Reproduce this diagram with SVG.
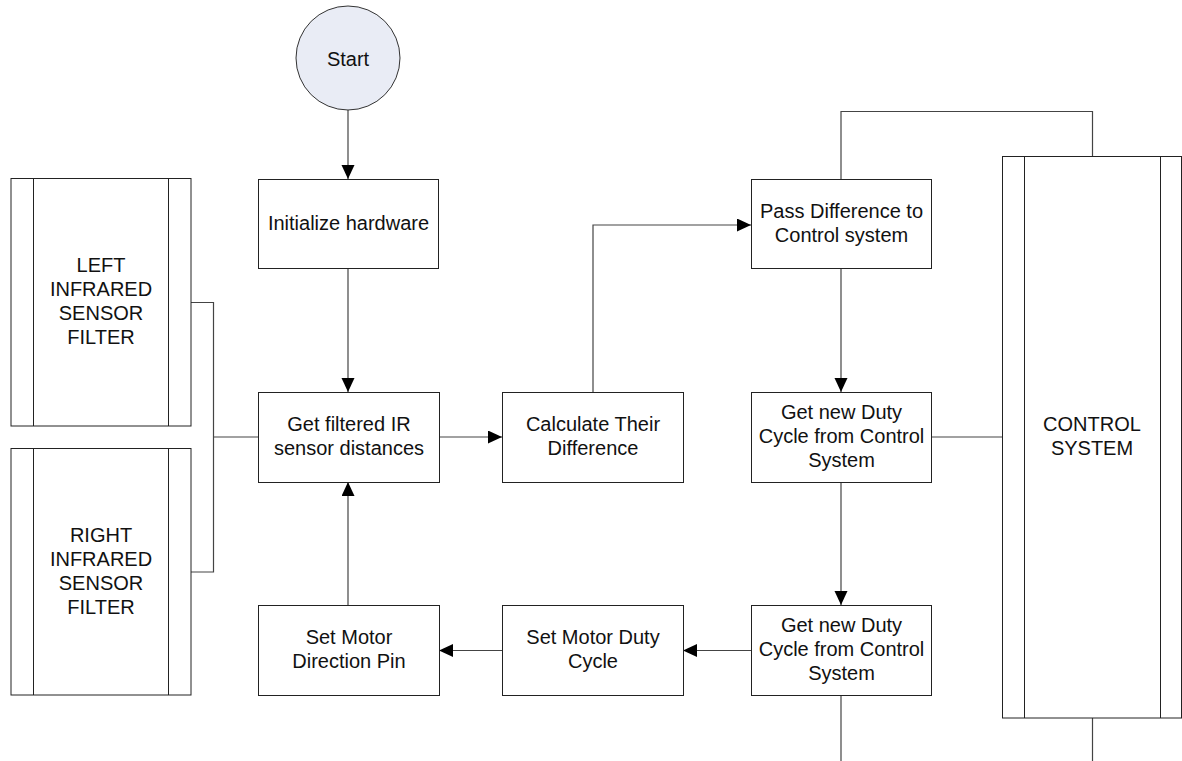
<svg xmlns="http://www.w3.org/2000/svg" width="1182" height="761" viewBox="0 0 1182 761">
<defs>
<marker id="arr" markerUnits="userSpaceOnUse" markerWidth="16" markerHeight="14" refX="14" refY="6.5" orient="auto">
<path d="M0,0 L14,6.5 L0,13 Z" fill="#000"/>
</marker>
<style>
.box{fill:#fff;stroke:#222;stroke-width:1}
.sub{fill:none;stroke:#222;stroke-width:1}
.conn{fill:none;stroke:#444;stroke-width:1.2}
text{font-family:"Liberation Sans",Arial,sans-serif;font-size:20px;fill:#111;text-anchor:middle}
</style>
</defs>
<rect width="1182" height="761" fill="#fff"/>
<g id="connectors">
<path class="conn" d="M348 110 V179" marker-end="url(#arr)"/>
<path class="conn" d="M348 268 V392" marker-end="url(#arr)"/>
<path class="conn" d="M191 302.5 H213.5 V572 H191"/>
<path class="conn" d="M213.5 437 H258"/>
<path class="conn" d="M439 437 H502" marker-end="url(#arr)"/>
<path class="conn" d="M593 392 V225 H751" marker-end="url(#arr)"/>
<path class="conn" d="M841 268 V392" marker-end="url(#arr)"/>
<path class="conn" d="M841 179 V111.5 H1092.5 V156"/>
<path class="conn" d="M931 437 H1002"/>
<path class="conn" d="M841 482 V605" marker-end="url(#arr)"/>
<path class="conn" d="M751 650.5 H683" marker-end="url(#arr)"/>
<path class="conn" d="M502 650.5 H439" marker-end="url(#arr)"/>
<path class="conn" d="M348 605 V482" marker-end="url(#arr)"/>
<path class="conn" d="M841 695 V761"/>
<path class="conn" d="M1092.5 718 V761"/>
</g>
<g id="start">
<circle cx="348" cy="58" r="52" fill="#e9ecf5" stroke="#333" stroke-width="1"/>
<text x="348" y="66">Start</text>
</g>
<g id="init">
<rect class="box" x="258.5" y="179.5" width="180" height="89"/>
<text x="348.5" y="230">Initialize hardware</text>
</g>
<g id="getFiltered">
<rect class="box" x="258.5" y="392.5" width="181" height="90"/>
<text x="349" y="431">Get filtered IR</text>
<text x="349" y="455">sensor distances</text>
</g>
<g id="calcDiff">
<rect class="box" x="502.5" y="392.5" width="181" height="90"/>
<text x="593" y="431">Calculate Their</text>
<text x="593" y="455">Difference</text>
</g>
<g id="passDiff">
<rect class="box" x="751.5" y="179.5" width="180" height="89"/>
<text x="841.5" y="218">Pass Difference to</text>
<text x="841.5" y="242">Control system</text>
</g>
<g id="getDuty1">
<rect class="box" x="751.5" y="392.5" width="180" height="90"/>
<text x="841.5" y="419">Get new Duty</text>
<text x="841.5" y="443">Cycle from Control</text>
<text x="841.5" y="467">System</text>
</g>
<g id="getDuty2">
<rect class="box" x="751.5" y="605.5" width="180" height="90"/>
<text x="841.5" y="632">Get new Duty</text>
<text x="841.5" y="656">Cycle from Control</text>
<text x="841.5" y="680">System</text>
</g>
<g id="setDuty">
<rect class="box" x="502.5" y="605.5" width="181" height="90"/>
<text x="593" y="644">Set Motor Duty</text>
<text x="593" y="668">Cycle</text>
</g>
<g id="setDir">
<rect class="box" x="258.5" y="605.5" width="181" height="90"/>
<text x="349" y="644">Set Motor</text>
<text x="349" y="668">Direction Pin</text>
</g>
<g id="leftSensor">
<rect class="box" x="11" y="178.5" width="180" height="247.5"/>
<path class="sub" d="M33.5 178.5 V426 M168.5 178.5 V426"/>
<text x="101" y="272">LEFT</text>
<text x="101" y="296">INFRARED</text>
<text x="101" y="320">SENSOR</text>
<text x="101" y="344">FILTER</text>
</g>
<g id="rightSensor">
<rect class="box" x="11" y="448.5" width="180" height="246.5"/>
<path class="sub" d="M33.5 448.5 V695 M168.5 448.5 V695"/>
<text x="101" y="542">RIGHT</text>
<text x="101" y="566">INFRARED</text>
<text x="101" y="590">SENSOR</text>
<text x="101" y="614">FILTER</text>
</g>
<g id="controlSystem">
<rect class="box" x="1002.5" y="156.5" width="179" height="561.5"/>
<path class="sub" d="M1024.5 156.5 V718 M1160.5 156.5 V718"/>
<text x="1092" y="431">CONTROL</text>
<text x="1092" y="455">SYSTEM</text>
</g>
</svg>
